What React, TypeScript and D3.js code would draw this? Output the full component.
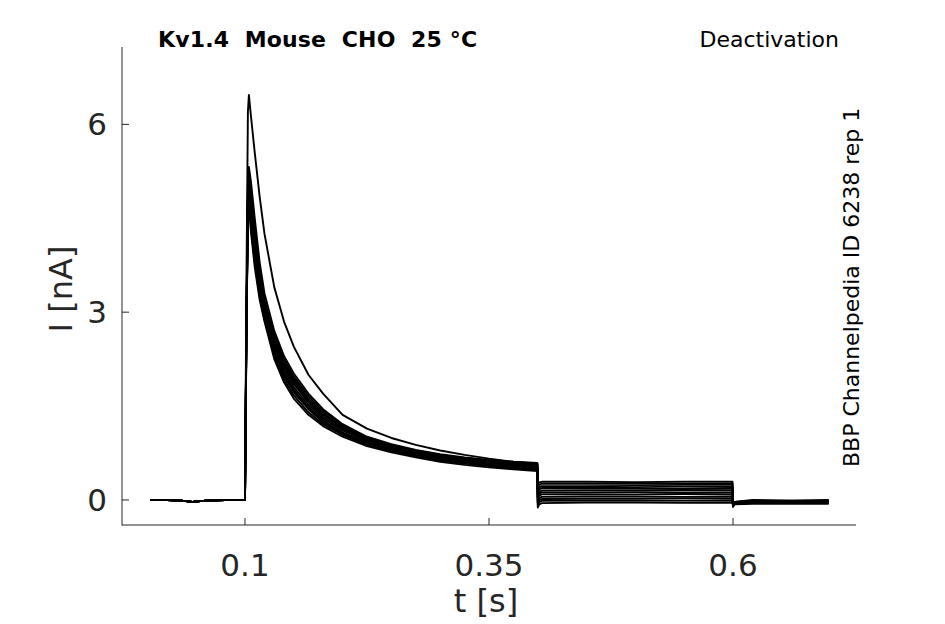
import React from "react";
import * as d3 from "d3";

// ---------- data ----------
const X_TICKS = [0.1, 0.35, 0.6];
const X_TICK_LABELS = ["0.1", "0.35", "0.6"];
const Y_TICKS = [0, 3, 6];
const Y_TICK_LABELS = ["0", "3", "6"];

// baseline before the test pulse (s, nA)
const T_PRE = [0.003, 0.02, 0.035, 0.046, 0.06, 0.08, 0.0995];
const I_PRE = [0.0, 0.0, -0.01, -0.03, -0.01, 0.0, 0.0];

// activating pulse: rise + inactivating decay (s)
const T_PULSE = [0.1, 0.1015, 0.103, 0.104, 0.106, 0.11, 0.115, 0.12, 0.13, 0.14, 0.15, 0.165, 0.18, 0.2, 0.225, 0.25, 0.275, 0.3, 0.325, 0.35, 0.375, 0.3995];
// one row per sweep (nA)
const I_PULSE = [
  [0, 3.5, 6.2, 6.47, 6.15, 5.55, 4.85, 4.25, 3.4, 2.85, 2.45, 2.0, 1.7, 1.36, 1.14, 0.99, 0.88, 0.79, 0.72, 0.66, 0.61, 0.58],
  [0, 3.0, 5.0, 5.32, 5.1, 4.5, 3.8, 3.3, 2.7, 2.3, 2.02, 1.7, 1.45, 1.21, 1.01, 0.89, 0.8, 0.73, 0.68, 0.64, 0.61, 0.59],
  [0, 2.9, 4.9, 5.15, 4.92, 4.32, 3.68, 3.2, 2.64, 2.25, 1.97, 1.66, 1.42, 1.19, 1.0, 0.88, 0.79, 0.72, 0.67, 0.63, 0.6, 0.58],
  [0, 2.9, 4.85, 5.0, 4.8, 4.22, 3.6, 3.14, 2.59, 2.2, 1.93, 1.62, 1.39, 1.17, 0.98, 0.87, 0.78, 0.71, 0.66, 0.62, 0.59, 0.57],
  [0, 2.8, 4.8, 4.95, 4.72, 4.15, 3.55, 3.1, 2.54, 2.16, 1.89, 1.59, 1.36, 1.15, 0.97, 0.86, 0.77, 0.7, 0.65, 0.61, 0.58, 0.55],
  [0, 2.8, 4.75, 4.9, 4.65, 4.08, 3.48, 3.05, 2.49, 2.12, 1.85, 1.56, 1.33, 1.13, 0.95, 0.84, 0.75, 0.69, 0.63, 0.59, 0.57, 0.54],
  [0, 2.8, 4.72, 4.85, 4.58, 4.0, 3.42, 3.0, 2.44, 2.07, 1.8, 1.52, 1.3, 1.11, 0.94, 0.83, 0.74, 0.68, 0.62, 0.58, 0.55, 0.52],
  [0, 2.7, 4.7, 4.8, 4.52, 3.94, 3.36, 2.96, 2.39, 2.02, 1.76, 1.48, 1.27, 1.08, 0.92, 0.81, 0.72, 0.66, 0.61, 0.57, 0.54, 0.51],
  [0, 2.7, 4.68, 4.78, 4.45, 3.88, 3.31, 2.92, 2.35, 1.98, 1.72, 1.45, 1.24, 1.06, 0.9, 0.8, 0.71, 0.65, 0.6, 0.55, 0.52, 0.49],
  [0, 2.7, 4.65, 4.75, 4.38, 3.8, 3.25, 2.88, 2.3, 1.93, 1.67, 1.4, 1.21, 1.04, 0.88, 0.78, 0.7, 0.63, 0.58, 0.54, 0.5, 0.48],
  [0, 2.6, 4.6, 4.7, 4.3, 3.72, 3.2, 2.85, 2.25, 1.88, 1.62, 1.36, 1.18, 1.01, 0.86, 0.76, 0.68, 0.61, 0.56, 0.52, 0.49, 0.46],
];

// deactivation step (s)
const T_TAIL = [0.4, 0.4015, 0.404, 0.45, 0.5, 0.55, 0.5995];
const I_TAIL = [
  [0.26, 0.28, 0.29, 0.29, 0.285, 0.29, 0.29],
  [0.2, 0.24, 0.26, 0.26, 0.26, 0.255, 0.26],
  [0.16, 0.2, 0.22, 0.22, 0.225, 0.22, 0.22],
  [0.12, 0.17, 0.19, 0.19, 0.19, 0.185, 0.19],
  [0.08, 0.13, 0.15, 0.155, 0.155, 0.16, 0.155],
  [0.05, 0.1, 0.12, 0.12, 0.125, 0.12, 0.12],
  [0.02, 0.07, 0.09, 0.09, 0.09, 0.095, 0.09],
  [-0.02, 0.03, 0.05, 0.055, 0.055, 0.05, 0.055],
  [-0.05, 0.0, 0.015, 0.02, 0.02, 0.025, 0.02],
  [-0.08, -0.03, -0.015, -0.01, -0.01, -0.01, -0.01],
  [-0.12, -0.07, -0.05, -0.04, -0.04, -0.045, -0.04],
];

// return to holding (s)
const T_POST = [0.6, 0.6015, 0.62, 0.66, 0.698];
const I_POST = [
  [-0.08, -0.03, 0.0, -0.01, 0.0],
  [-0.08, -0.03, -0.01, -0.01, -0.01],
  [-0.08, -0.04, -0.01, -0.02, -0.01],
  [-0.09, -0.04, -0.02, -0.02, -0.02],
  [-0.09, -0.04, -0.02, -0.03, -0.02],
  [-0.09, -0.05, -0.03, -0.03, -0.03],
  [-0.1, -0.05, -0.03, -0.04, -0.03],
  [-0.1, -0.05, -0.04, -0.04, -0.04],
  [-0.1, -0.06, -0.04, -0.05, -0.05],
  [-0.1, -0.06, -0.05, -0.05, -0.05],
  [-0.11, -0.07, -0.06, -0.06, -0.06],
];

const TITLE = "Kv1.4  Mouse  CHO  25 °C";
const PROTOCOL = "Deactivation";
const SOURCE = "BBP Channelpedia ID 6238 rep 1";
const X_LABEL = "t [s]";
const Y_LABEL = "I [nA]";

// ---------- layout ----------
const W = 945;
const H = 624;
const LEFT = 122;
const RIGHT = 856;
const TOP = 47;
const BOTTOM = 525;
const AXIS = "#262626";
const FONT = "DejaVu Sans, sans-serif";

export default function App() {
  const x = d3.scaleLinear().domain([-0.026, 0.726]).range([LEFT, RIGHT]);
  const y = d3.scaleLinear().domain([-0.4, 7.236]).range([BOTTOM, TOP]);

  const line = d3
    .line<[number, number]>()
    .x((d) => x(d[0]))
    .y((d) => y(d[1]));

  const sweeps = I_PULSE.map((pulse, k) => {
    const pts: [number, number][] = [];
    T_PRE.forEach((t, i) => pts.push([t, I_PRE[i]]));
    T_PULSE.forEach((t, i) => pts.push([t, pulse[i]]));
    T_TAIL.forEach((t, i) => pts.push([t, I_TAIL[k][i]]));
    T_POST.forEach((t, i) => pts.push([t, I_POST[k][i]]));
    return pts;
  });

  return (
    <svg
      width={W}
      height={H}
      style={{ position: "absolute", left: 0, top: 0, background: "#fff" }}
      fontFamily={FONT}
    >
      <rect x={0} y={0} width={W} height={H} fill="#fff" />
      {/* traces */}
      <g fill="none" stroke="#000" strokeWidth={1.9} strokeLinejoin="round">
        {sweeps.map((pts, k) => (
          <path key={k} d={line(pts) || ""} />
        ))}
      </g>

      {/* axes */}
      <g stroke={AXIS} strokeWidth={1} fill="none">
        <line x1={LEFT} y1={TOP} x2={LEFT} y2={BOTTOM + 0.5} />
        <line x1={LEFT} y1={BOTTOM} x2={RIGHT} y2={BOTTOM} />
        {X_TICKS.map((t) => (
          <line key={t} x1={x(t)} x2={x(t)} y1={BOTTOM} y2={BOTTOM - 7} />
        ))}
        {Y_TICKS.map((v) => (
          <line key={v} x1={LEFT} x2={LEFT + 7} y1={y(v)} y2={y(v)} />
        ))}
      </g>

      {/* tick labels */}
      <g fill={AXIS} fontSize={31}>
        {X_TICKS.map((t, i) => (
          <text key={t} x={x(t)} y={576} textAnchor="middle">
            {X_TICK_LABELS[i]}
          </text>
        ))}
        {Y_TICKS.map((v, i) => (
          <text key={v} x={107} y={y(v) + 11} textAnchor="end">
            {Y_TICK_LABELS[i]}
          </text>
        ))}
      </g>

      {/* axis labels */}
      <text x={486} y={612} textAnchor="middle" fontSize={32} fill={AXIS}>
        {X_LABEL}
      </text>
      <text
        transform={`translate(72,289) rotate(-90)`}
        textAnchor="middle"
        fontSize={32}
        fill={AXIS}
      >
        {Y_LABEL}
      </text>

      {/* annotations */}
      <text
        x={158}
        y={47}
        fontSize={22}
        fontWeight="bold"
        fill="#000"
        style={{ whiteSpace: "pre" }}
        xmlSpace="preserve"
        letterSpacing={0.15}
      >
        {TITLE}
      </text>
      <text x={839} y={47} fontSize={22} textAnchor="end" fill="#000">
        {PROTOCOL}
      </text>
      <text
        transform={`translate(859,467) rotate(-90)`}
        fontSize={22}
        fill="#000"
      >
        {SOURCE}
      </text>
    </svg>
  );
}
